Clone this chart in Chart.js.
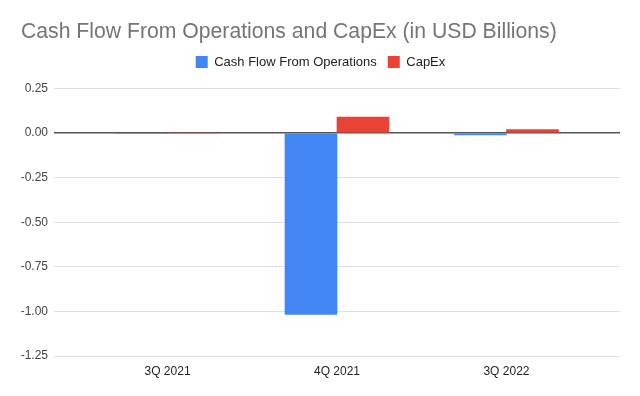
<!DOCTYPE html>
<html>
<head>
<meta charset="utf-8">
<script src="https://cdn.jsdelivr.net/npm/chart.js@4"></script>
<style>
  html, body { margin: 0; padding: 0; background: #fff; }
  #wrap { width: 640px; height: 396px; }
</style>
</head>
<body>
<div id="wrap"><canvas id="cfChart" width="640" height="396"></canvas></div>
<script>
// values (USD billions)
const quarters = ['3Q 2021', '4Q 2021', '3Q 2022']
const cashFlowOps = [-0.004, -1.017, -0.01]
const capEx = [0, 0.09, 0.02]
const yTicks = [0.25, 0, -0.25, -0.5, -0.75, -1, -1.25]

// bars sit on a numeric x axis (1, 2, 3) so the plot can keep wide side margins
const toPoints = arr => arr.map((v, i) => ({ x: i + 1, y: v }))

// empty box between legend and plot, just for spacing
const spacer = {
  id: 'spacer',
  beforeInit(chart) {
    Chart.layouts.addBox(chart, {
      position: 'top',
      weight: 500,
      fullSize: false,
      options: {},
      isHorizontal: () => true,
      update(w, h) { this.width = w; this.height = 10; },
      draw() {}
    })
  }
}

const ctx = document.getElementById('cfChart').getContext('2d')
new Chart(ctx, {
  type: 'bar',
  data: {
    datasets: [{
      label: 'Cash Flow From Operations',
      data: toPoints(cashFlowOps),
      backgroundColor: '#4285F4',
      barThickness: 52
    }, {
      label: 'CapEx',
      data: toPoints(capEx),
      backgroundColor: '#EA4335',
      barThickness: 52
    }]
  },
  plugins: [spacer],
  options: {
    responsive: false,
    animation: false,
    layout: { padding: { left: 21, right: 20, top: 0, bottom: 0 } },
    plugins: {
      tooltip: { enabled: false },
      title: {
        display: true,
        text: 'Cash Flow From Operations and CapEx (in USD Billions)',
        align: 'start',
        color: '#757575',
        font: { family: 'Arial', size: 21.2, weight: 'normal' },
        padding: { top: 19, bottom: 0 }
      },
      legend: {
        position: 'top',
        labels: {
          boxWidth: 12,
          boxHeight: 12,
          padding: 11,
          color: '#222',
          font: { family: 'Arial', size: 13 }
        }
      }
    },
    scales: {
      x: {
        type: 'linear',
        offset: false,
        min: 0.33,
        max: 3.67,
        grid: { display: false, drawTicks: false, tickLength: 0 },
        border: { display: false },
        afterFit: s => { s.height = 40 },
        ticks: {
          stepSize: 1,
          autoSkip: false,
          maxRotation: 0,
          padding: 8,
          color: '#222',
          font: { family: 'Arial', size: 12 },
          callback: v => Number.isInteger(v) ? (quarters[v - 1] || '') : ''
        }
      },
      y: {
        min: yTicks[yTicks.length - 1],
        max: yTicks[0],
        afterFit: s => { s.width = 33 },
        border: { display: false },
        grid: {
          drawTicks: false,
          color: c => c.tick && c.tick.value === 0 ? '#555' : '#e0e0e0',
          lineWidth: c => c.tick && c.tick.value === 0 ? 1.5 : 1
        },
        ticks: {
          stepSize: 0.25,
          padding: 6,
          color: '#444',
          font: { family: 'Arial', size: 12 },
          callback: v => v.toFixed(2)
        }
      }
    }
  }
})
</script>
</body>
</html>
